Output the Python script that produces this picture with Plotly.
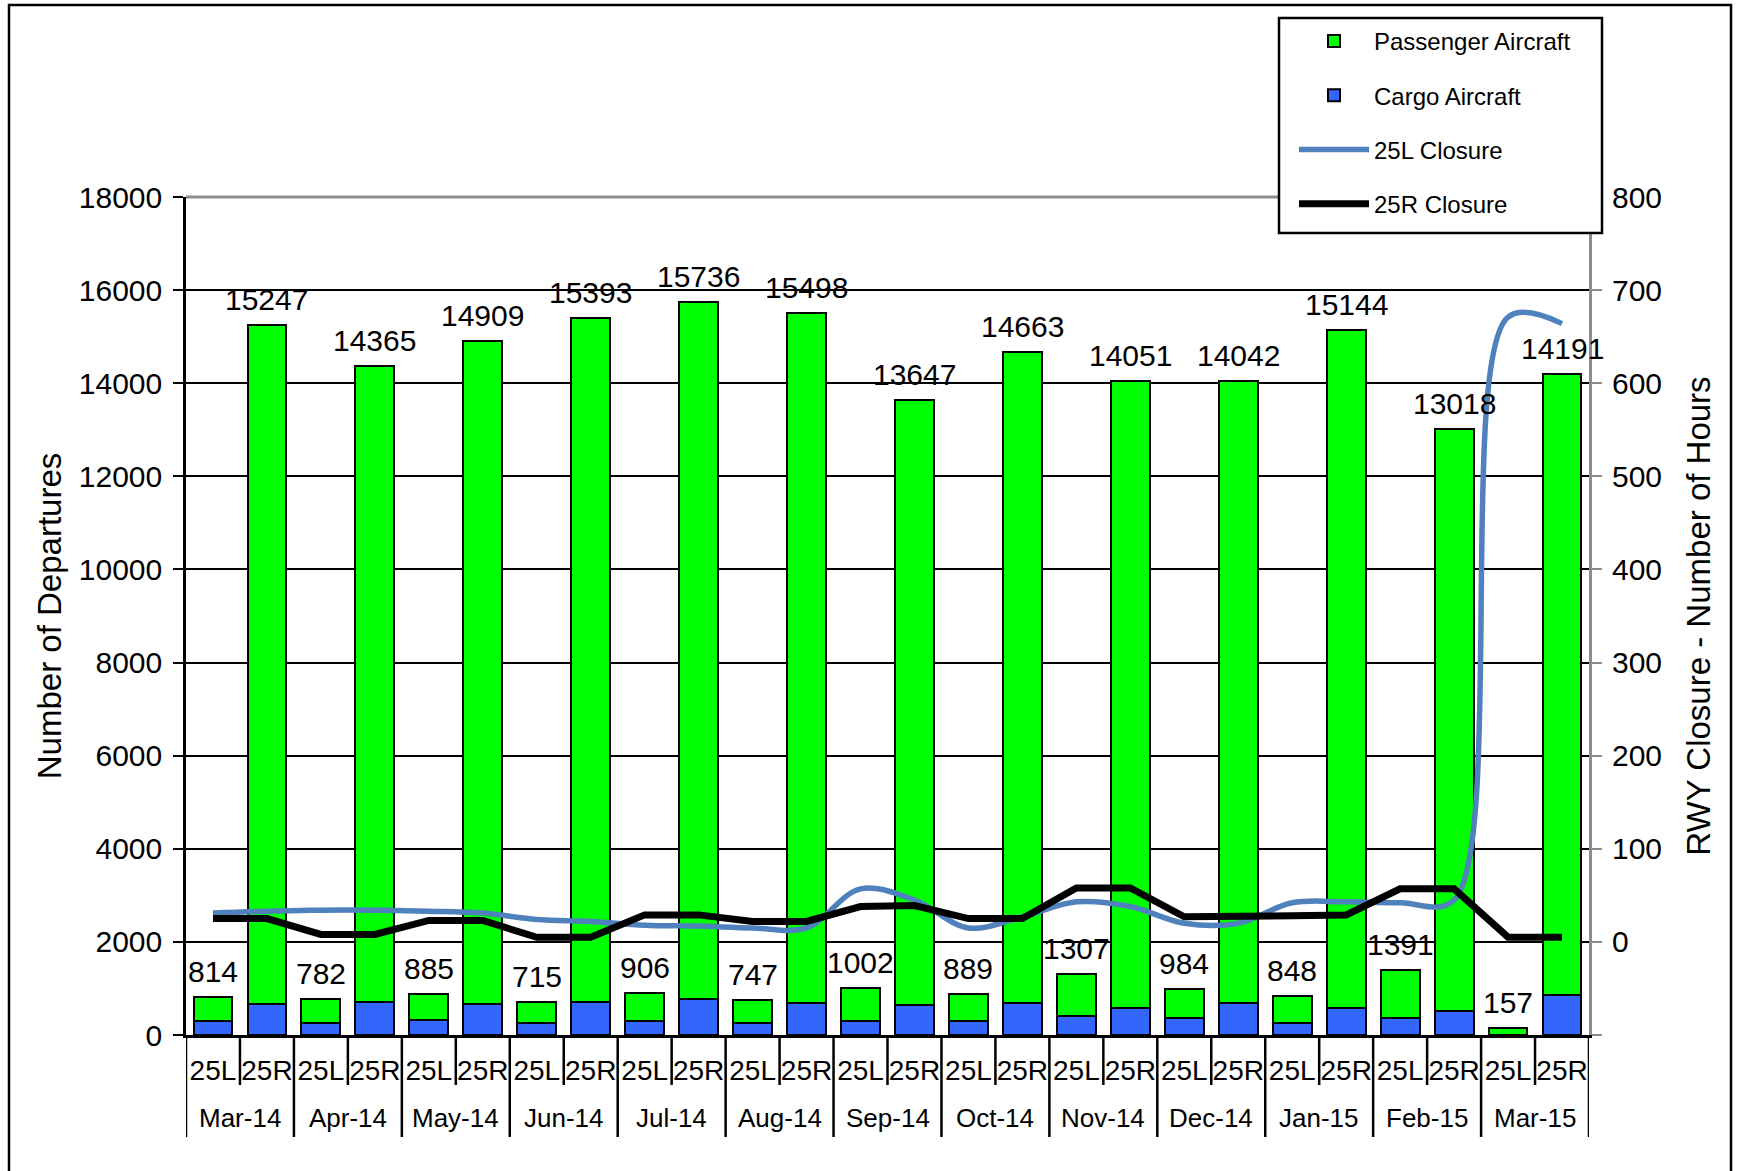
import plotly.graph_objects as go

# ---------------- data ----------------
months = ["Mar-14", "Apr-14", "May-14", "Jun-14", "Jul-14", "Aug-14", "Sep-14",
          "Oct-14", "Nov-14", "Dec-14", "Jan-15", "Feb-15", "Mar-15"]
runways = ["25L", "25R"]

total_25L = [814, 782, 885, 715, 906, 747, 1002, 889, 1307, 984, 848, 1391, 157]
total_25R = [15247, 14365, 14909, 15393, 15736, 15498, 13647, 14663, 14051, 14042, 15144, 13018, 14191]
cargo_25L = [300, 265, 315, 265, 301, 251, 301, 301, 416, 358, 251, 358, 10]
cargo_25R = [659, 709, 659, 709, 767, 681, 645, 681, 573, 681, 573, 523, 860]

# closure hours, one value per bar position (25L, 25R of each month)
closure_25L = [31, 33, 34, 34, 33, 31, 24, 22, 18, 17, 15, 15, 57,
               45, 15, 27, 43, 38, 20, 20, 42, 43, 42, 45, 671, 664]
closure_25R = [25, 25, 8, 8, 23, 23, 5, 5, 29, 29, 22, 22, 38,
               39, 25, 25, 58, 58, 27, 27, 28, 29, 57, 57, 5, 5]

left_ticks = list(range(0, 18001, 2000))
left_ticktext = [str(v) for v in left_ticks]
right_ticks = list(range(-100, 801, 100))
right_ticktext = ["" if v < 0 else str(v) for v in right_ticks]

# ---------------- derived ----------------
run_labels, totals, cargo = [], [], []
for m in range(len(months)):
    run_labels += runways
    totals += [total_25L[m], total_25R[m]]
    cargo += [cargo_25L[m], cargo_25R[m]]
passenger = [t - c for t, c in zip(totals, cargo)]
xs = list(range(len(totals)))

FONT = "Liberation Sans, Arial, sans-serif"
GREEN = "#00FF00"
BLUE = "#3366FF"
LINEBLUE = "#4F81BD"

fig = go.Figure()
fig.add_trace(go.Bar(x=xs, y=cargo, name="Cargo Aircraft", marker_color=BLUE,
                     marker_line=dict(color="black", width=2), legendrank=2,
                     legendgroup="c"))
fig.add_trace(go.Bar(x=xs, y=passenger, name="Passenger Aircraft", marker_color=GREEN,
                     marker_line=dict(color="black", width=2), legendrank=1,
                     legendgroup="p"))
fig.add_trace(go.Scatter(x=xs, y=closure_25L, name="25L Closure", mode="lines",
                         line=dict(color=LINEBLUE, width=5.5, shape="spline", smoothing=1),
                         yaxis="y2", legendrank=3, legendgroup="l"))
fig.add_trace(go.Scatter(x=xs, y=closure_25R, name="25R Closure", mode="lines",
                         line=dict(color="black", width=7),
                         yaxis="y2", legendrank=4, legendgroup="r"))

annotations = []
for x, t in zip(xs, totals):
    annotations.append(dict(x=x, y=t, xref="x", yref="y", text=str(t), showarrow=False,
                            yanchor="bottom", yshift=7,
                            font=dict(family=FONT, size=30, color="black")))

# month labels
plot_h = 1171 - 197 - 136
plot_w = 1737 - 186 - 148
for m, name in enumerate(months):
    annotations.append(dict(x=2 * m + 0.5, y=-83 / plot_h, xref="x", yref="paper",
                            text=name, showarrow=False, yanchor="middle",
                            font=dict(family=FONT, size=26, color="black")))

shapes = []
for j in range(len(totals) + 1):
    depth = 102 if j % 2 == 0 else 50
    shapes.append(dict(type="line", xref="x", yref="paper", x0=j - 0.5, x1=j - 0.5,
                       y0=0, y1=-depth / plot_h, line=dict(color="black", width=2.5)))
# gray top border of plot area
shapes.append(dict(type="line", xref="paper", yref="paper", x0=0, x1=1, y0=1, y1=1,
                   line=dict(color="#8C8C8C", width=3)))
# outer chart frame
shapes.append(dict(type="rect", xref="paper", yref="paper",
                   x0=(9 - 186) / plot_w, x1=(1731 - 186) / plot_w,
                   y0=-(1200 - 1035) / plot_h, y1=(1035 - 5) / plot_h,
                   line=dict(color="black", width=2.5), fillcolor="rgba(0,0,0,0)",
                   layer="below"))
# legend box
shapes.append(dict(type="rect", xref="paper", yref="paper",
                   x0=(1279 - 186) / plot_w, x1=(1602 - 186) / plot_w,
                   y0=(1035 - 233) / plot_h, y1=(1035 - 18) / plot_h,
                   line=dict(color="black", width=2.5), fillcolor="white",
                   layer="above"))

fig.update_layout(
    width=1737, height=1171, autosize=False,
    margin=dict(l=186, r=148, t=197, b=136, pad=0),
    plot_bgcolor="white", paper_bgcolor="white",
    barmode="stack", bargap=0.28,
    font=dict(family=FONT, size=28, color="black"),
    annotations=annotations, shapes=shapes,
    legend=dict(x=(1294 - 186) / plot_w, y=(1035 - 19) / plot_h, xanchor="left", yanchor="top",
                bgcolor="rgba(0,0,0,0)", borderwidth=0,
                font=dict(family=FONT, size=24, color="black"),
                traceorder="grouped", tracegroupgap=20, itemwidth=70),
    xaxis=dict(range=[-0.5, len(totals) - 0.5], tickmode="array", tickvals=xs,
               ticktext=run_labels, ticks="", showline=True, linecolor="black",
               linewidth=2.5, showgrid=False, zeroline=False, ticklabelstandoff=9,
               tickfont=dict(family=FONT, size=28, color="black")),
    yaxis=dict(range=[0, 18000], tickmode="array", tickvals=left_ticks,
               ticktext=left_ticktext,
               showline=True, linecolor="black", linewidth=2.5, ticks="outside",
               ticklen=10, tickwidth=2, tickcolor="black", showgrid=True,
               gridcolor="black", gridwidth=1.5, zeroline=False, ticklabelstandoff=5,
               tickfont=dict(family=FONT, size=30, color="black"),
               title=dict(text="Number of Departures", standoff=8,
                          font=dict(family=FONT, size=33, color="black"))),
    yaxis2=dict(range=[-100, 800], overlaying="y", side="right", tickmode="array",
                tickvals=right_ticks, ticktext=right_ticktext, showline=True,
                linecolor="#8C8C8C", linewidth=3, ticks="outside", ticklen=10,
                tickwidth=2, tickcolor="#8C8C8C", showgrid=False, zeroline=False,
                ticklabelstandoff=4,
                tickfont=dict(family=FONT, size=30, color="black"),
                title=dict(text="RWY Closure - Number of Hours", standoff=26,
                           font=dict(family=FONT, size=33, color="black"))),
)

fig.write_html("out.html", config={"displayModeBar": False},
               post_script="document.body.style.margin='0';")
